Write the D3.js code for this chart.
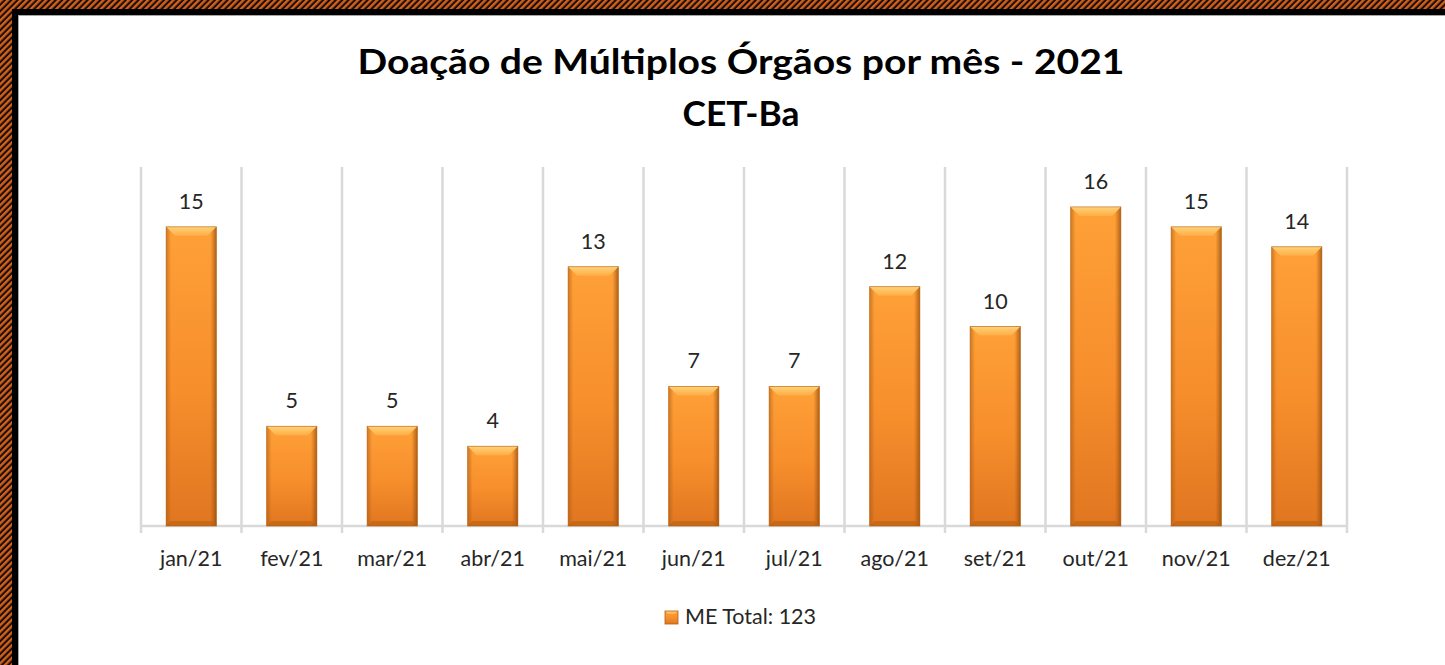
<!DOCTYPE html>
<html>
<head>
<meta charset="utf-8">
<script src="https://cdnjs.cloudflare.com/ajax/libs/d3/7.8.5/d3.min.js"></script>
<style>
  html, body { margin: 0; padding: 0; background: #fff; }
  svg { display: block; }
</style>
</head>
<body>
<svg id="chart" width="1445" height="665"></svg>
<script>
// chart data
var months = ['jan/21', 'fev/21', 'mar/21', 'abr/21', 'mai/21', 'jun/21',
              'jul/21', 'ago/21', 'set/21', 'out/21', 'nov/21', 'dez/21'];
var donations = [15, 5, 5, 4, 13, 7, 7, 12, 10, 16, 15, 14];
var titleLines = ['Doação de Múltiplos Órgãos por mês - 2021', 'CET-Ba'];
var legendLabel = 'ME Total: 123';

(function() {
  var W = 1445, H = 665;
  var svg = d3.select('#chart');
  var defs = svg.append('defs');
  var font = 'Lato, "Open Sans", sans-serif';

  // hatched frame pattern
  var pat = defs.append('pattern')
    .attr('id', 'hatch')
    .attr('patternUnits', 'userSpaceOnUse')
    .attr('width', 4.5).attr('height', 4.5)
    .attr('patternTransform', 'rotate(45)');
  pat.append('rect').attr('width', 4.5).attr('height', 4.5).attr('fill', '#1a0d05');
  pat.append('rect').attr('width', 2.4).attr('height', 4.5).attr('fill', '#d2611e');

  // bar gradients
  var g1 = defs.append('linearGradient').attr('id', 'barFill')
    .attr('x1', 0).attr('y1', 0).attr('x2', 0).attr('y2', 1);
  g1.append('stop').attr('offset', '0%').attr('stop-color', '#ffa037');
  g1.append('stop').attr('offset', '55%').attr('stop-color', '#f68e2c');
  g1.append('stop').attr('offset', '100%').attr('stop-color', '#e07620');

  var g2 = defs.append('linearGradient').attr('id', 'barSide')
    .attr('x1', 0).attr('y1', 0).attr('x2', 1).attr('y2', 0);
  g2.append('stop').attr('offset', '0%').attr('stop-color', '#a0520f').attr('stop-opacity', 0.5);
  g2.append('stop').attr('offset', '10%').attr('stop-color', '#a0520f').attr('stop-opacity', 0);
  g2.append('stop').attr('offset', '88%').attr('stop-color', '#a0520f').attr('stop-opacity', 0);
  g2.append('stop').attr('offset', '100%').attr('stop-color', '#8a4408').attr('stop-opacity', 0.7);

  var g3 = defs.append('linearGradient').attr('id', 'barTop')
    .attr('x1', 0).attr('y1', 0).attr('x2', 0).attr('y2', 1);
  g3.append('stop').attr('offset', '0%').attr('stop-color', '#ffd27a');
  g3.append('stop').attr('offset', '100%').attr('stop-color', '#ffae45');

  // background + frame
  svg.append('rect').attr('width', W).attr('height', H).attr('fill', 'url(#hatch)');
  svg.append('rect').attr('x', 12).attr('y', 9).attr('width', W).attr('height', H)
    .attr('fill', '#000');
  svg.append('rect').attr('x', 18).attr('y', 15).attr('width', W).attr('height', H)
    .attr('fill', '#a6a6a6');
  svg.append('rect').attr('x', 19).attr('y', 16).attr('width', W).attr('height', H)
    .attr('fill', '#fff');

  // title (stretched a little to match the wider original face)
  svg.append('text')
    .attr('x', 741).attr('y', 74)
    .attr('text-anchor', 'middle')
    .attr('textLength', 767).attr('lengthAdjust', 'spacingAndGlyphs')
    .style('font-family', font).style('font-weight', 'bold')
    .style('font-size', '35px').attr('fill', '#000')
    .text(titleLines[0]);
  svg.append('text')
    .attr('x', 741).attr('y', 126)
    .attr('text-anchor', 'middle')
    .attr('textLength', 117).attr('lengthAdjust', 'spacingAndGlyphs')
    .style('font-family', font).style('font-weight', 'bold')
    .style('font-size', '35px').attr('fill', '#000')
    .text(titleLines[1]);

  // scales
  var x = d3.scaleBand().domain(months).range([141, 1347]).paddingInner(0.5).paddingOuter(0.25);
  var xb = d3.scaleBand().domain(months).range([141, 1347]);
  var y = d3.scaleLinear().domain([0, 18]).range([526, 167]);

  // vertical grid lines at category boundaries
  var bounds = months.map(function(m) { return xb(m); }).concat([1347]);
  svg.append('g').selectAll('line').data(bounds).enter().append('line')
    .attr('x1', function(d) { return d; }).attr('x2', function(d) { return d; })
    .attr('y1', y(18)).attr('y2', y(0) + 7)
    .attr('stroke', '#d9d9d9').attr('stroke-width', 2.5);

  // baseline
  svg.append('line')
    .attr('x1', 141).attr('x2', 1347)
    .attr('y1', y(0)).attr('y2', y(0))
    .attr('stroke', '#d9d9d9').attr('stroke-width', 2.5);

  // bars
  var bars = svg.append('g').selectAll('g.bar')
    .data(months.map(function(m, i) { return { m: m, v: donations[i] }; }))
    .enter().append('g').attr('class', 'bar');

  bars.append('rect')
    .attr('x', function(d) { return x(d.m); })
    .attr('y', function(d) { return y(d.v); })
    .attr('width', x.bandwidth())
    .attr('height', function(d) { return y(0) - y(d.v); })
    .attr('fill', 'url(#barFill)');
  bars.append('rect')
    .attr('x', function(d) { return x(d.m); })
    .attr('y', function(d) { return y(d.v); })
    .attr('width', x.bandwidth())
    .attr('height', function(d) { return y(0) - y(d.v); })
    .attr('fill', 'url(#barSide)');
  // bevel top
  bars.append('path')
    .attr('d', function(d) {
      var x0 = x(d.m), x1 = x0 + x.bandwidth(), t = y(d.v), b = 9;
      return 'M' + x0 + ',' + t + 'L' + x1 + ',' + t + 'L' + (x1 - b) + ',' + (t + b) +
             'L' + (x0 + b) + ',' + (t + b) + 'Z';
    })
    .attr('fill', 'url(#barTop)');
  // bottom shade
  bars.append('path')
    .attr('d', function(d) {
      var x0 = x(d.m), x1 = x0 + x.bandwidth(), bt = y(0), b = 5;
      return 'M' + x0 + ',' + bt + 'L' + x1 + ',' + bt + 'L' + (x1 - b) + ',' + (bt - b) +
             'L' + (x0 + b) + ',' + (bt - b) + 'Z';
    })
    .attr('fill', '#b8600f').attr('opacity', 0.6);
  bars.append('rect')
    .attr('x', function(d) { return x(d.m); })
    .attr('y', function(d) { return y(d.v); })
    .attr('width', x.bandwidth())
    .attr('height', function(d) { return y(0) - y(d.v); })
    .attr('fill', 'none').attr('stroke', '#b0600f').attr('stroke-width', 0.8).attr('opacity', 0.7);

  // data labels
  bars.append('text')
    .attr('x', function(d) { return x(d.m) + x.bandwidth() / 2; })
    .attr('y', function(d) { return y(d.v) - 18; })
    .attr('text-anchor', 'middle')
    .style('font-family', font).style('font-size', '21.5px').attr('fill', '#262626')
    .text(function(d) { return d.v; });

  // category labels
  svg.append('g').selectAll('text').data(months).enter().append('text')
    .attr('x', function(d) { return xb(d) + xb.bandwidth() / 2; })
    .attr('y', 566)
    .attr('text-anchor', 'middle')
    .style('font-family', font).style('font-size', '21.5px').attr('fill', '#262626')
    .text(function(d) { return d; });

  // legend
  var lg = svg.append('g').attr('transform', 'translate(665,611)');
  lg.append('rect').attr('x', 0).attr('y', 0).attr('width', 13).attr('height', 13)
    .attr('fill', 'url(#barFill)');
  lg.append('path').attr('d', 'M0,0L13,0L10,3L3,3Z').attr('fill', 'url(#barTop)');
  lg.append('rect').attr('x', 0).attr('y', 0).attr('width', 13).attr('height', 13)
    .attr('fill', 'none').attr('stroke', '#b0600f').attr('stroke-width', 0.8);
  lg.append('text').attr('x', 20).attr('y', 13)
    .style('font-family', font).style('font-size', '21.5px').attr('fill', '#262626')
    .text(legendLabel);
})();
</script>
</body>
</html>
